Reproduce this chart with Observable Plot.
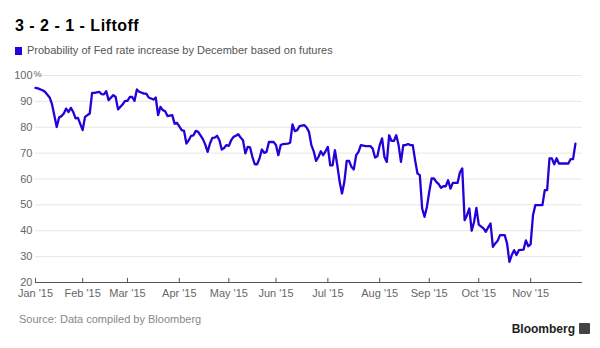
<!DOCTYPE html>
<html>
<head>
<meta charset="utf-8">
<script src="https://cdn.jsdelivr.net/npm/d3@7"></script>
<script src="https://cdn.jsdelivr.net/npm/@observablehq/plot@0.6"></script>
<style>
  html, body { margin: 0; padding: 0; background: #fff; }
  #wrap { position: relative; width: 600px; height: 348px; background: #fff; overflow: hidden;
          font-family: "Liberation Sans", Arial, sans-serif; }
  #title { position: absolute; left: 15px; top: 18px; font-weight: bold; font-size: 16px; line-height: 16px;
           letter-spacing: 0.5px; color: #000; white-space: nowrap; }
  #legend { position: absolute; left: 15px; top: 45px; font-size: 11px; line-height: 11px; color: #555; white-space: nowrap; }
  #legend .sw { display: inline-block; width: 7px; height: 8px; background: #2400d9; margin-right: 5px; vertical-align: -1px; }
  #chart { position: absolute; left: 0; top: 62px; }
  #chart svg { overflow: visible; }
  #source { position: absolute; left: 19px; top: 314px; font-size: 11px; line-height: 11px; color: #888; white-space: nowrap; }
  #brand { position: absolute; right: 10px; top: 323px; font-size: 12px; line-height: 12px; font-weight: bold; color: #222; white-space: nowrap; }
  #brand .ic { display: inline-block; width: 11px; height: 11px; background: #444; margin-left: 4px; vertical-align: -1px; border-radius: 1px; }
</style>
</head>
<body>
<div id="wrap">
  <div id="title">3 - 2 - 1 - Liftoff</div>
  <div id="legend"><span class="sw"></span>Probability of Fed rate increase by December based on futures</div>
  <div id="chart"></div>
  <div id="source">Source: Data compiled by Bloomberg</div>
  <div id="brand">Bloomberg<span class="ic"></span></div>
</div>
<script>
// trading-day index since Jan 2, 2015
const days = [0,1,3,4,6,7,9,10,11,12,13,14,15,16,17,18,20,21,23,24,25,27,28,29,30,31,33,34,35,37,38,39,40,41,42,43,44,46,47,48,49,50,51,52,53,54,55,56,58,59,60,61,62,63,64,65,66,67,68,69,71,72,73,74,75,76,77,78,79,80,81,82,83,84,85,86,87,88,89,90,91,92,93,94,95,96,97,98,99,101,102,103,104,105,107,108,109,110,111,112,114,115,116,117,118,119,120,121,122,123,124,125,126,127,128,129,130,131,132,133,134,135,136,137,138,140,142,143,144,145,146,147,148,149,150,151,152,153,154,155,156,157,158,159,160,161,162,163,164,165,166,167,168,169,170,171,172,173,174,175,176,177,178,179,180,181,182,183,184,185,186,187,188,190,191,192,193,194,195,196,197,199,200,201,202,203,204,205,207,208,209,210,211,212,215,216,217,218,219,220,221,222,226,227,228,229];
// probability (%) of a Fed rate increase by December
const prob = [95.2,95.0,94.3,93.7,91.5,88.9,80.1,83.8,84.3,85.3,87.2,85.9,87.5,85.9,83.4,83.6,78.9,84.0,85.3,93.3,93.3,93.7,92.8,92.7,93.9,90.5,92.4,91.7,86.9,88.9,90.2,90.2,91.7,91.7,90.2,94.6,93.7,93.0,93.0,91.5,91.1,90.7,91.5,84.7,87.9,86.6,86.2,84.3,84.7,81.4,81.7,80.3,78.9,78.6,73.7,75.0,76.7,76.9,78.6,78.2,75.4,73.3,70.5,73.7,75.9,76.0,76.7,75.0,71.4,72.0,73.1,72.8,75.0,76.3,76.7,77.3,76.0,75.0,69.9,72.4,72.2,68.5,65.7,65.7,67.9,71.4,70.1,70.5,74.3,74.3,73.1,69.2,73.1,73.5,73.7,74.0,81.1,78.5,78.9,80.4,80.8,79.9,78.2,73.1,70.7,67.0,68.5,70.7,69.2,70.7,72.4,65.3,65.3,71.1,65.3,58.9,54.4,58.9,67.0,67.0,64.7,63.7,69.2,70.5,73.1,72.7,72.7,71.8,68.3,68.8,73.1,75.7,68.5,66.6,76.9,74.7,74.7,76.9,73.1,66.6,73.1,73.1,73.5,73.1,73.1,67.3,62.1,61.5,48.6,45.4,49.2,55.0,60.2,60.2,58.9,58.0,56.6,57.2,57.2,59.5,56.3,58.5,58.5,58.5,62.5,64.1,44.1,46.0,48.6,40.0,43.4,48.8,42.4,40.9,39.6,41.3,42.8,33.8,35.1,36.1,38.3,38.3,35.1,28.0,30.6,32.5,30.6,32.5,32.7,36.3,34.0,34.8,46.0,49.9,49.9,55.7,55.7,68.0,68.0,65.7,68.0,66.0,66.0,67.7,67.7,73.7];
// month starts (trading-day index) and labels
const monthStarts = [0,20,39,61,82,102,124,146,167,188,210];
const monthLabels = ["Jan '15","Feb '15","Mar '15","Apr '15","May '15","Jun '15","Jul '15","Aug '15","Sep '15","Oct '15","Nov '15"];
const yTicks = [20,30,40,50,60,70,80,90,100];

const data = days.map((d, i) => ({day: d, p: prob[i]}));
const lineColor = "#2400d9";

const W = 600, ML = 35, MR = 18;
const xDomain = [0, 232];
const unitsPerPx = (xDomain[1] - xDomain[0]) / (W - ML - MR);
const labelX = -3 * unitsPerPx; // 3px left of the axis start

const chart = Plot.plot({
  width: W,
  height: 245,
  marginTop: 13,
  marginBottom: 25,
  marginLeft: ML,
  marginRight: MR,
  style: {fontFamily: "'Liberation Sans', Arial, sans-serif", fontSize: "11px", background: "transparent", overflow: "visible"},
  x: {domain: xDomain, axis: null},
  y: {domain: [20, 100], axis: null},
  marks: [
    Plot.ruleY(yTicks.filter(d => d > 20), {stroke: "#e6e6e6", strokeWidth: 1}),
    Plot.text(yTicks, {x: () => labelX, y: d => d, text: d => String(d), textAnchor: "end", fill: "#666", fontSize: 11}),
    Plot.text([yTicks[yTicks.length - 1]], {x: () => labelX, y: d => d, text: () => "%", textAnchor: "start", dx: 1, dy: -1, fill: "#666", fontSize: 9}),
    Plot.ruleX(monthStarts, {y1: 20, y2: 21.6, stroke: "#555", strokeWidth: 1}),
    Plot.ruleY([20], {stroke: "#555", strokeWidth: 1}),
    Plot.text(monthStarts, {x: d => d, y: () => 20, text: (d, i) => monthLabels[i], lineAnchor: "top", dy: 7, fill: "#666", fontSize: 11}),
    Plot.line(data, {x: "day", y: "p", stroke: lineColor, strokeWidth: 2.3, strokeLinejoin: "round", curve: "linear"})
  ]
});
document.getElementById("chart").appendChild(chart);
</script>
</body>
</html>
